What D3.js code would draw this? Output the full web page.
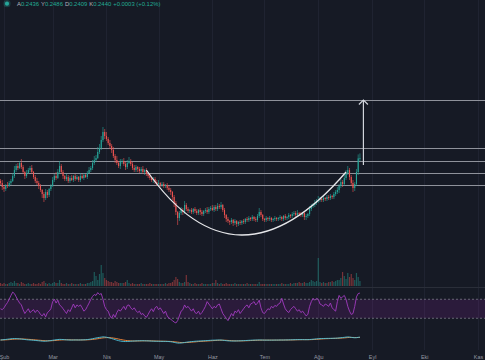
<!DOCTYPE html>
<html><head><meta charset="utf-8">
<script src="https://cdn.jsdelivr.net/npm/d3@7"></script>
<style>html,body{margin:0;padding:0;background:#161a25;overflow:hidden}svg{display:block}</style>
</head><body><svg id="c" width="485" height="360"></svg>
<script>
// ---------- data ----------
const firstDay = "2023-01-30";          // first daily candle
const firstOpen = 0.221;
const closes = [
0.219,0.215,0.213,0.217,0.216,0.219,0.221,0.226,0.232,0.236,
0.234,0.239,0.235,0.230,0.226,0.229,0.232,0.234,0.230,0.225,
0.221,0.219,0.216,0.212,0.208,0.204,0.210,0.207,0.213,0.216,
0.222,0.226,0.224,0.230,0.236,0.230,0.226,0.223,0.225,0.221,
0.224,0.222,0.226,0.223,0.225,0.222,0.226,0.224,0.227,0.225,
0.229,0.232,0.234,0.239,0.242,0.244,0.250,0.254,0.262,0.270,
0.266,0.263,0.259,0.256,0.252,0.246,0.242,0.239,0.236,0.240,
0.241,0.238,0.235,0.239,0.241,0.238,0.234,0.232,0.235,0.233,
0.231,0.233,0.230,0.232,0.228,0.226,0.224,0.222,0.223,0.220,
0.218,0.219,0.217,0.218,0.216,0.217,0.214,0.212,0.210,0.205,
0.199,0.190,0.184,0.189,0.192,0.190,0.197,0.193,0.191,0.192,
0.190,0.193,0.191,0.189,0.192,0.190,0.188,0.191,0.192,0.190,
0.193,0.194,0.192,0.195,0.193,0.196,0.195,0.197,0.192,0.187,
0.183,0.181,0.180,0.182,0.179,0.181,0.178,0.180,0.179,0.181,
0.180,0.183,0.182,0.184,0.183,0.185,0.183,0.182,0.186,0.190,
0.187,0.183,0.182,0.184,0.183,0.184,0.182,0.183,0.184,0.183,
0.184,0.185,0.183,0.186,0.184,0.185,0.187,0.186,0.188,0.189,
0.187,0.189,0.188,0.187,0.189,0.185,0.186,0.188,0.193,0.196,
0.197,0.199,0.201,0.202,0.203,0.202,0.204,0.203,0.205,0.204,
0.206,0.205,0.208,0.210,0.212,0.216,0.220,0.218,0.224,0.229,
0.232,0.225,0.219,0.214,0.218,0.230,0.2436,0.2440];
const wickUp = [
0.002,0.003,0.002,0.001,0.003,0.002,0.002,0.003,0.004,0.002,
0.003,0.002,0.004,0.002,0.001,0.003,0.002,0.002,0.003,0.001,
0.002,0.003,0.002,0.002,0.001,0.002,0.003,0.002,0.001,0.002,
0.003,0.002,0.004,0.003,0.005,0.002,0.002,0.001,0.003,0.002,
0.002,0.003,0.001,0.002,0.002,0.001,0.003,0.002,0.002,0.001,
0.002,0.003,0.002,0.003,0.004,0.003,0.005,0.004,0.004,0.005,
0.003,0.004,0.002,0.003,0.002,0.003,0.002,0.004,0.002,0.003,
0.002,0.003,0.002,0.003,0.004,0.002,0.002,0.003,0.002,0.001,
0.002,0.002,0.003,0.001,0.002,0.002,0.002,0.001,0.002,0.002,
0.002,0.003,0.001,0.002,0.002,0.001,0.002,0.002,0.002,0.001,
0.002,0.002,0.001,0.002,0.003,0.002,0.004,0.002,0.002,0.001,
0.002,0.001,0.002,0.002,0.001,0.002,0.002,0.001,0.002,0.003,
0.002,0.002,0.003,0.002,0.002,0.003,0.002,0.003,0.001,0.002,
0.001,0.002,0.001,0.002,0.001,0.002,0.001,0.001,0.002,0.001,
0.002,0.001,0.002,0.002,0.001,0.002,0.001,0.002,0.002,0.004,
0.002,0.001,0.001,0.002,0.001,0.002,0.001,0.001,0.002,0.001,
0.001,0.002,0.001,0.001,0.002,0.001,0.002,0.001,0.002,0.002,
0.002,0.003,0.001,0.002,0.001,0.002,0.002,0.001,0.003,0.002,
0.002,0.003,0.002,0.004,0.002,0.001,0.002,0.001,0.002,0.002,
0.002,0.001,0.002,0.002,0.003,0.002,0.003,0.002,0.003,0.003,
0.004,0.002,0.002,0.003,0.002,0.003,0.004,0.0046];
const wickDown = [
0.002,0.003,0.003,0.002,0.002,0.001,0.002,0.001,0.002,0.002,
0.002,0.001,0.002,0.002,0.003,0.002,0.001,0.002,0.002,0.002,
0.002,0.002,0.003,0.002,0.004,0.004,0.002,0.003,0.002,0.002,
0.001,0.002,0.002,0.001,0.002,0.002,0.003,0.002,0.002,0.002,
0.002,0.001,0.002,0.002,0.001,0.002,0.002,0.001,0.002,0.001,
0.002,0.001,0.002,0.002,0.002,0.002,0.001,0.002,0.002,0.002,
0.003,0.002,0.002,0.003,0.003,0.002,0.003,0.002,0.002,0.003,
0.002,0.002,0.003,0.002,0.001,0.002,0.002,0.002,0.002,0.003,
0.002,0.002,0.002,0.003,0.002,0.002,0.002,0.002,0.003,0.002,
0.002,0.002,0.002,0.002,0.002,0.002,0.002,0.002,0.003,0.003,
0.004,0.003,0.007,0.003,0.002,0.003,0.002,0.002,0.002,0.002,
0.002,0.002,0.002,0.002,0.002,0.003,0.002,0.002,0.002,0.002,
0.002,0.002,0.001,0.002,0.002,0.002,0.002,0.002,0.002,0.003,
0.003,0.002,0.003,0.002,0.003,0.002,0.003,0.002,0.002,0.002,
0.002,0.002,0.002,0.002,0.002,0.002,0.002,0.002,0.002,0.002,
0.002,0.002,0.002,0.002,0.002,0.002,0.002,0.002,0.002,0.002,
0.002,0.002,0.002,0.002,0.002,0.002,0.002,0.002,0.002,0.002,
0.002,0.002,0.002,0.002,0.002,0.003,0.003,0.002,0.002,0.002,
0.002,0.002,0.002,0.002,0.002,0.002,0.002,0.002,0.002,0.002,
0.002,0.002,0.002,0.002,0.002,0.003,0.002,0.003,0.002,0.002,
0.002,0.003,0.003,0.004,0.003,0.002,0.003,0.0027];
const volumes = [
3,2,3,2,2,3,4,3,5,3, 3,2,4,3,2,2,3,2,2,3, 2,2,3,2,4,5,3,2,3,2,
3,4,3,3,6,3,2,2,3,2, 2,3,2,2,2,2,3,2,2,2, 3,3,4,5,14,10,6,12,21,13,
8,6,5,4,4,3,5,4,3,3, 3,3,4,6,3,2,3,2,2,2, 2,3,2,2,2,2,3,2,2,2,
2,2,2,2,2,3,2,3,3,4, 6,9,7,4,3,3,4,11,4,3, 2,2,3,2,2,2,3,2,2,2,
2,2,3,3,6,3,2,3,2,2, 3,2,2,2,2,3,2,2,2,2, 2,2,3,2,2,2,2,2,2,4,
2,2,2,2,2,2,2,2,2,2, 2,2,3,2,2,2,2,3,2,3, 3,3,4,3,3,4,3,3,4,6,
5,4,5,28,4,3,4,3,3,4, 4,5,4,5,6,6,8,14,10,7, 13,9,12,8,6,13,9,5];
const rsi = [
50,48,52,58, 63,70,78,85,82, 75,68,62,58, 48,40,45,50,42, 45,48,42,47,44,
38,35,40,33, 42,45,50, 65,70,62,68, 58,55,50,45, 40,48,44,52, 60,52,58,55,
58,52,45,48, 55,62,70,76, 80,78,84,80, 82,70,55,48, 45,35,30,38, 32,42,48,45,
50,55,48,57, 58,52,48,52, 46,42,45,38, 40,35,32,38, 45,50,44,52, 55,48,52,46,
40,45,35,30, 28,25,22,20, 25,35,45,48, 58,52,55,50, 45,50,42,40, 45,38,42,48,
55,65,60,55, 50,55,52,58, 60,50,40,35, 30,25,32,40, 35,45,42,48, 40,45,50,55,
58,52,60,62, 65,58,62,68, 52,42,40,45, 50,48,55,52, 57,55,60,62, 72,60,50,45,
42,48,52,55, 50,45,48,42, 45,40,35,38, 55,65,72,68, 72,70,60,58, 55,60,58,55,
62,52,48,45, 65,78,72,75, 78,70,55,45, 38,40,55,75, 82,83];
// MACD and signal, in thousandths of price
const macdLine = [
0.0,0.3,0.6,1.0,1.4,1.8,2.2,2.5,2.6,2.5, 2.3,2.0,1.7,1.3,0.9,0.5,0.2,0.0,-0.2,-0.5,
-0.8,-1.1,-1.4,-1.7,-2.0,-2.2,-2.1,-1.8,-1.4,-1.0, -0.5,0.0,0.4,0.8,1.1,1.0,0.8,0.5,0.3,0.1,
0.0,-0.1,0.0,0.1,0.1,0.0,0.1,0.2,0.3,0.5, 0.8,1.2,1.7,2.3,3.0,3.6,4.2,4.7,5.2,5.6,
5.5,5.0,4.3,3.5,2.6,1.6,0.6,-0.3,-1.2,-1.9, -2.4,-2.7,-2.8,-2.7,-2.5,-2.2,-2.0,-1.8,-1.6,-1.5,
-1.4,-1.3,-1.3,-1.4,-1.5,-1.6,-1.8,-2.0,-2.1,-2.2, -2.3,-2.3,-2.4,-2.4,-2.5,-2.5,-2.6,-2.8,-3.1,-3.6,
-4.3,-5.0,-5.5,-5.6,-5.4,-5.0,-4.5,-4.0,-3.6,-3.2, -2.9,-2.6,-2.3,-2.1,-1.9,-1.7,-1.6,-1.4,-1.2,-1.0,
-0.8,-0.6,-0.4,-0.3,-0.2,-0.1,0.0,-0.1,-0.4,-0.8, -1.2,-1.5,-1.7,-1.8,-1.8,-1.8,-1.7,-1.6,-1.5,-1.3,
-1.2,-1.0,-0.8,-0.6,-0.5,-0.3,-0.2,-0.1,0.0,0.1, 0.0,-0.1,-0.2,-0.2,-0.2,-0.2,-0.2,-0.2,-0.1,-0.1,
-0.1,0.0,0.0,0.0,0.1,0.1,0.2,0.3,0.4,0.5, 0.6,0.7,0.7,0.7,0.7,0.6,0.6,0.6,0.8,1.1,
1.4,1.7,2.0,2.3,2.5,2.6,2.7,2.8,2.9,2.9, 3.0,3.0,3.1,3.2,3.4,3.7,4.1,4.4,4.8,5.2,
5.5,5.3,4.8,4.3,4.0,4.2,4.8,5.2];
const signalLine = [
0.0,0.1,0.2,0.3,0.5,0.7,1.0,1.3,1.5,1.7, 1.8,1.9,1.9,1.8,1.6,1.4,1.2,1.0,0.7,0.5,
0.2,-0.1,-0.4,-0.6,-0.9,-1.1,-1.3,-1.4,-1.4,-1.4, -1.2,-1.0,-0.7,-0.4,-0.1,0.1,0.3,0.4,0.4,0.4,
0.3,0.2,0.2,0.1,0.1,0.1,0.1,0.1,0.2,0.2, 0.3,0.5,0.7,1.0,1.4,1.8,2.3,2.8,3.3,3.8,
4.1,4.3,4.3,4.2,3.9,3.5,3.0,2.4,1.7,1.0, 0.4,-0.2,-0.7,-1.1,-1.4,-1.6,-1.7,-1.8,-1.8,-1.7,
-1.7,-1.6,-1.5,-1.5,-1.5,-1.5,-1.5,-1.6,-1.7,-1.8, -1.9,-2.0,-2.1,-2.2,-2.2,-2.3,-2.4,-2.5,-2.6,-2.8,
-3.1,-3.5,-3.9,-4.3,-4.6,-4.7,-4.7,-4.6,-4.4,-4.2, -3.9,-3.6,-3.4,-3.1,-2.8,-2.6,-2.4,-2.2,-2.0,-1.8,
-1.6,-1.4,-1.2,-1.0,-0.8,-0.6,-0.5,-0.4,-0.4,-0.5, -0.6,-0.8,-1.0,-1.2,-1.4,-1.5,-1.6,-1.6,-1.6,-1.6,
-1.5,-1.4,-1.3,-1.2,-1.0,-0.9,-0.7,-0.6,-0.5,-0.4, -0.3,-0.2,-0.2,-0.2,-0.2,-0.2,-0.2,-0.2,-0.2,-0.2,
-0.2,-0.1,-0.1,-0.1,0.0,0.0,0.0,0.1,0.1,0.2, 0.3,0.4,0.5,0.5,0.6,0.6,0.6,0.6,0.6,0.7,
0.8,1.0,1.2,1.4,1.7,1.9,2.1,2.3,2.4,2.5, 2.7,2.8,2.9,3.0,3.1,3.2,3.4,3.6,3.8,4.1,
4.4,4.6,4.6,4.6,4.5,4.4,4.5,4.6];
const levels = [0.302, 0.254, 0.241, 0.229, 0.217];
const cupArc = [["2023-04-24", 0.232], ["2023-06-15", 0.103], ["2023-08-17", 0.230]]; // start, control, end
const arrowPts = [["2023-08-27", 0.237], ["2023-08-27", 0.302]];
const monthLabels = ["Şub","Mar","Nis","May","Haz","Tem","Ağu","Eyl","Eki","Kas"];
const legendKeys = ["A","Y","D","K"];
const legendVals = ["0.2436","0.2486","0.2409","0.2440"];
const legendChange = "+0.0003 (+0.12%)";

// ---------- drawing ----------
const W = 485, H = 360;
const svg = d3.select("#c");
const parse = d3.timeParse("%Y-%m-%d");
const d0 = parse(firstDay);
const n = closes.length;
const candles = d3.range(n).map(i => {
  const o = i ? closes[i-1] : firstOpen, c = closes[i];
  return {date: d3.timeDay.offset(d0, i), o, c,
    h: Math.max(o, c) + wickUp[i], l: Math.min(o, c) - wickDown[i],
    v: volumes[i], rsi: rsi[i], macd: macdLine[i], sig: signalLine[i]};
});
const monthTicks = d3.timeMonth.range(new Date(2023,1,1), new Date(2023,10,2));
const x = d3.scaleTime().domain([monthTicks[0], monthTicks[monthTicks.length-1]]).range([4, 478]);
const MAIN_B = 287;
const y = d3.scaleLinear().domain([0.115, 0.402]).range([MAIN_B, 0]);
const yv = d3.scaleLinear().domain([0, 30]).range([MAIN_B - 1, MAIN_B - 31]);
const yr = d3.scaleLinear().domain([0, 100]).range([332.5, 285]);
const ym = d3.scaleLinear().domain([-18, 18]).range([350, 330]);

const UP = "#26a69a", DN = "#ef5350";
svg.append("rect").attr("width", W).attr("height", H).attr("fill", "#161a25");

// grid
svg.append("g").selectAll("line").data(monthTicks).join("line")
  .attr("x1", d => Math.round(x(d)) + 0.5).attr("x2", d => Math.round(x(d)) + 0.5)
  .attr("y1", 0).attr("y2", 350).attr("stroke", "#1f2331").attr("stroke-width", 1);
// pane separators
svg.append("line").attr("x1", 0).attr("x2", W).attr("y1", MAIN_B + 0.5).attr("y2", MAIN_B + 0.5).attr("stroke", "#2a2e39");

const defs = svg.append("defs");
defs.append("clipPath").attr("id", "mainclip").append("rect").attr("x", 0).attr("y", 0).attr("width", W).attr("height", MAIN_B);
const main = svg.append("g").attr("clip-path", "url(#mainclip)");

// volume
main.append("g").selectAll("rect").data(candles).join("rect")
  .attr("x", d => x(d.date) - 0.6).attr("width", 1.2)
  .attr("y", d => yv(d.v)).attr("height", d => yv(0) - yv(d.v))
  .attr("fill", d => d.c >= d.o ? UP : DN).attr("opacity", 0.45);

// level lines
main.append("g").selectAll("line").data(levels).join("line")
  .attr("x1", 0).attr("x2", W).attr("y1", d => Math.round(y(d)) + 0.5).attr("y2", d => Math.round(y(d)) + 0.5)
  .attr("stroke", "#8f929b").attr("stroke-width", 1);

// candles
const cg = main.append("g");
cg.selectAll("line").data(candles).join("line")
  .attr("x1", d => x(d.date)).attr("x2", d => x(d.date))
  .attr("y1", d => y(d.h)).attr("y2", d => y(d.l))
  .attr("stroke", d => d.c >= d.o ? UP : DN).attr("stroke-width", 0.6);
cg.selectAll("rect").data(candles).join("rect")
  .attr("x", d => x(d.date) - 0.55).attr("width", 1.1)
  .attr("y", d => y(Math.max(d.o, d.c))).attr("height", d => Math.max(0.8, Math.abs(y(d.o) - y(d.c))))
  .attr("fill", d => d.c >= d.o ? UP : DN);

// cup arc (quadratic)
const cp = cupArc.map(p => [x(parse(p[0])), y(p[1])]);
const path = d3.path();
path.moveTo(cp[0][0], cp[0][1]);
path.quadraticCurveTo(cp[1][0], cp[1][1], cp[2][0], cp[2][1]);
main.append("path").attr("d", path.toString()).attr("fill", "none").attr("stroke", "#e6e7ea").attr("stroke-width", 1.3);

// arrow
const ap = arrowPts.map(p => [x(parse(p[0])), y(p[1])]);
main.append("line").attr("x1", ap[0][0]).attr("y1", ap[0][1]).attr("x2", ap[1][0]).attr("y2", ap[1][1])
  .attr("stroke", "#d1d4dc").attr("stroke-width", 1.2);
main.append("path").attr("d", `M${ap[1][0]-4.5},${ap[1][1]+4.5}L${ap[1][0]},${ap[1][1]}L${ap[1][0]+4.5},${ap[1][1]+4.5}`)
  .attr("fill", "none").attr("stroke", "#d1d4dc").attr("stroke-width", 1.2);

// RSI pane
svg.append("rect").attr("x", 0).attr("width", W).attr("y", yr(70)).attr("height", yr(30) - yr(70))
  .attr("fill", "rgba(156,39,176,0.16)");
svg.append("g").selectAll("line").data([70, 30]).join("line")
  .attr("x1", 0).attr("x2", W).attr("y1", d => yr(d)).attr("y2", d => yr(d))
  .attr("stroke", "#787b86").attr("stroke-dasharray", "2,2").attr("stroke-width", 0.8);
svg.append("path").datum(candles)
  .attr("d", d3.line().x(d => x(d.date)).y(d => yr(d.rsi)))
  .attr("fill", "none").attr("stroke", "#a23bc0").attr("stroke-width", 0.9);

// MACD pane
svg.append("path").datum(candles)
  .attr("d", d3.line().x(d => x(d.date)).y(d => ym(d.sig)))
  .attr("fill", "none").attr("stroke", "#ff8c3a").attr("stroke-width", 0.9);
svg.append("path").datum(candles)
  .attr("d", d3.line().x(d => x(d.date)).y(d => ym(d.macd)))
  .attr("fill", "none").attr("stroke", "#4cc3dc").attr("stroke-width", 0.9);

// time axis
const ax = svg.append("g").attr("transform", "translate(0,352)")
  .call(d3.axisBottom(x).tickValues(monthTicks).tickFormat((d, i) => monthLabels[i]).tickSize(0));
ax.select(".domain").remove();
ax.selectAll("text").attr("y", 6.5).attr("dy", 0)
  .attr("fill", "#9598a1").attr("font-size", "5.4px").attr("font-family", "Liberation Sans, Arial, sans-serif");

// legend header
svg.append("circle").attr("cx", 7).attr("cy", 3.7).attr("r", 3.6).attr("fill", UP).attr("opacity", 0.25);
svg.append("circle").attr("cx", 7).attr("cy", 3.7).attr("r", 2.1).attr("fill", UP);
const t = svg.append("text").attr("x", 17).attr("y", 6.2)
  .attr("font-size", "5.9px").attr("font-family", "Liberation Sans, Arial, sans-serif");
legendKeys.forEach((k, i) => {
  t.append("tspan").attr("fill", "#b2b5be").attr("dx", i ? 2 : 0).text(k);
  t.append("tspan").attr("fill", "#22ab94").text(legendVals[i]);
});
t.append("tspan").attr("fill", "#22ab94").attr("dx", 2).text(legendChange);
</script></body></html>
